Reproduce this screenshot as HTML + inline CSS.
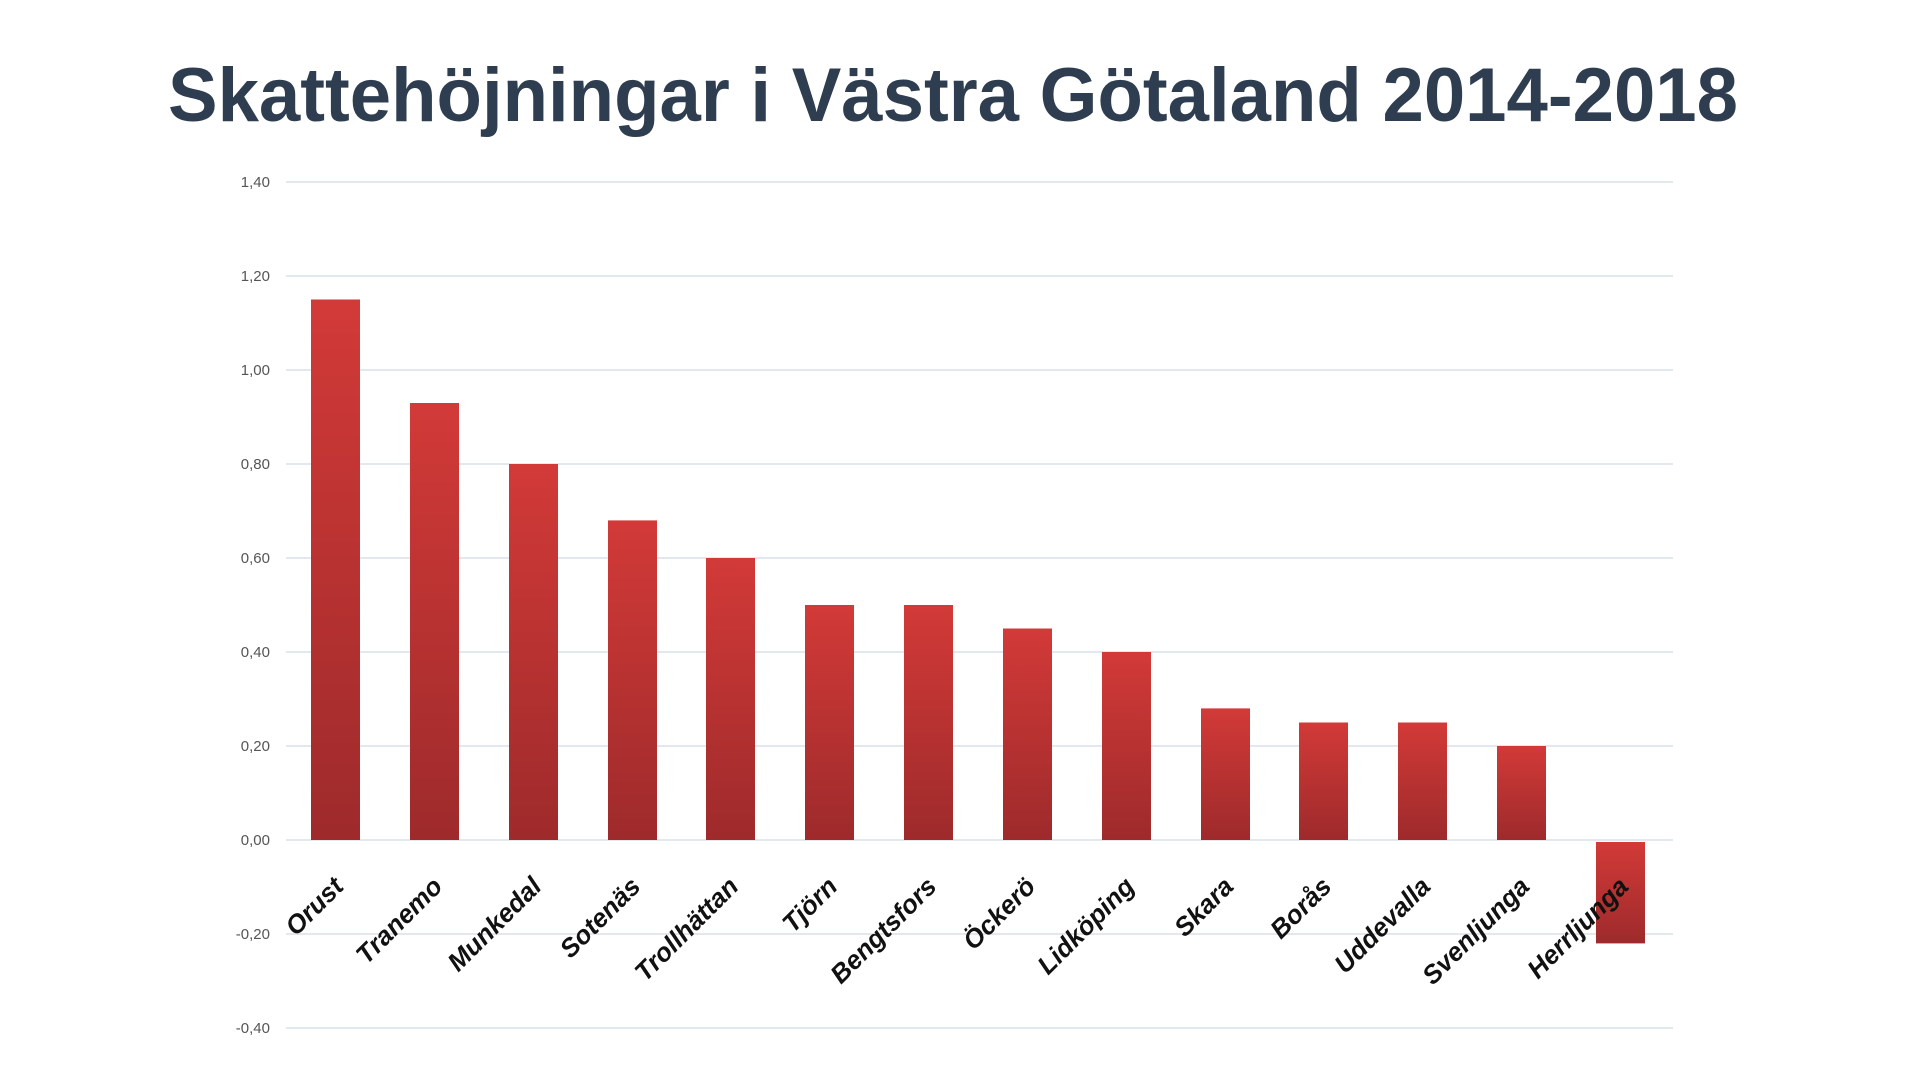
<!DOCTYPE html>
<html><head><meta charset="utf-8"><style>
html,body{margin:0;padding:0;background:#fff;width:1920px;height:1079px;overflow:hidden}
</style></head><body>
<svg width="1920" height="1079" xmlns="http://www.w3.org/2000/svg">
<defs>
<linearGradient id="g" x1="0" y1="0" x2="0" y2="1"><stop offset="0" stop-color="#d23a38"/><stop offset="1" stop-color="#9e2a2b"/></linearGradient>
</defs>
<text x="953" y="121" text-anchor="middle" font-family="Liberation Sans, sans-serif" font-weight="bold" font-size="76" fill="#2e3d4f" textLength="1570" lengthAdjust="spacingAndGlyphs">Skattehöjningar i Västra Götaland 2014-2018</text>
<g stroke="#e3e7ee" stroke-width="2">
<line x1="286" x2="1673" y1="182" y2="182"/><line x1="286" x2="1673" y1="276" y2="276"/><line x1="286" x2="1673" y1="370" y2="370"/><line x1="286" x2="1673" y1="464" y2="464"/><line x1="286" x2="1673" y1="558" y2="558"/><line x1="286" x2="1673" y1="652" y2="652"/><line x1="286" x2="1673" y1="746" y2="746"/><line x1="286" x2="1673" y1="840" y2="840"/><line x1="286" x2="1673" y1="934" y2="934"/><line x1="286" x2="1673" y1="1028" y2="1028"/>
</g>
<g font-family="Liberation Sans, sans-serif" font-size="15" fill="#555" text-anchor="end">
<text x="270" y="187">1,40</text><text x="270" y="281">1,20</text><text x="270" y="375">1,00</text><text x="270" y="469">0,80</text><text x="270" y="563">0,60</text><text x="270" y="657">0,40</text><text x="270" y="751">0,20</text><text x="270" y="845">0,00</text><text x="270" y="939">-0,20</text><text x="270" y="1033">-0,40</text>
</g>
<g fill="url(#g)">
<rect x="311" y="299.5" width="49" height="540.5"/>
<rect x="410" y="403" width="49" height="437"/>
<rect x="509" y="464" width="49" height="376"/>
<rect x="608" y="520.4" width="49" height="319.6"/>
<rect x="706" y="558" width="49" height="282"/>
<rect x="805" y="605" width="49" height="235"/>
<rect x="904" y="605" width="49" height="235"/>
<rect x="1003" y="628.5" width="49" height="211.5"/>
<rect x="1102" y="652" width="49" height="188"/>
<rect x="1201" y="708.4" width="49" height="131.6"/>
<rect x="1299" y="722.5" width="49" height="117.5"/>
<rect x="1398" y="722.5" width="49" height="117.5"/>
<rect x="1497" y="746" width="49" height="94"/>
<rect x="1596" y="842" width="49" height="101.4"/>
</g>
<g font-family="Liberation Sans, sans-serif" font-size="26" font-weight="bold" font-style="italic" fill="#111" text-anchor="end">
<text transform="translate(345,888) rotate(-45)">Orust</text>
<text transform="translate(444,888) rotate(-45)">Tranemo</text>
<text transform="translate(543,888) rotate(-45)">Munkedal</text>
<text transform="translate(642,888) rotate(-45)">Sotenäs</text>
<text transform="translate(740,888) rotate(-45)">Trollhättan</text>
<text transform="translate(839,888) rotate(-45)">Tjörn</text>
<text transform="translate(938,888) rotate(-45)">Bengtsfors</text>
<text transform="translate(1037,888) rotate(-45)">Öckerö</text>
<text transform="translate(1136,888) rotate(-45)">Lidköping</text>
<text transform="translate(1235,888) rotate(-45)">Skara</text>
<text transform="translate(1333,888) rotate(-45)">Borås</text>
<text transform="translate(1432,888) rotate(-45)">Uddevalla</text>
<text transform="translate(1531,888) rotate(-45)">Svenljunga</text>
<text transform="translate(1630,888) rotate(-45)">Herrljunga</text>
</g>
</svg>
</body></html>
